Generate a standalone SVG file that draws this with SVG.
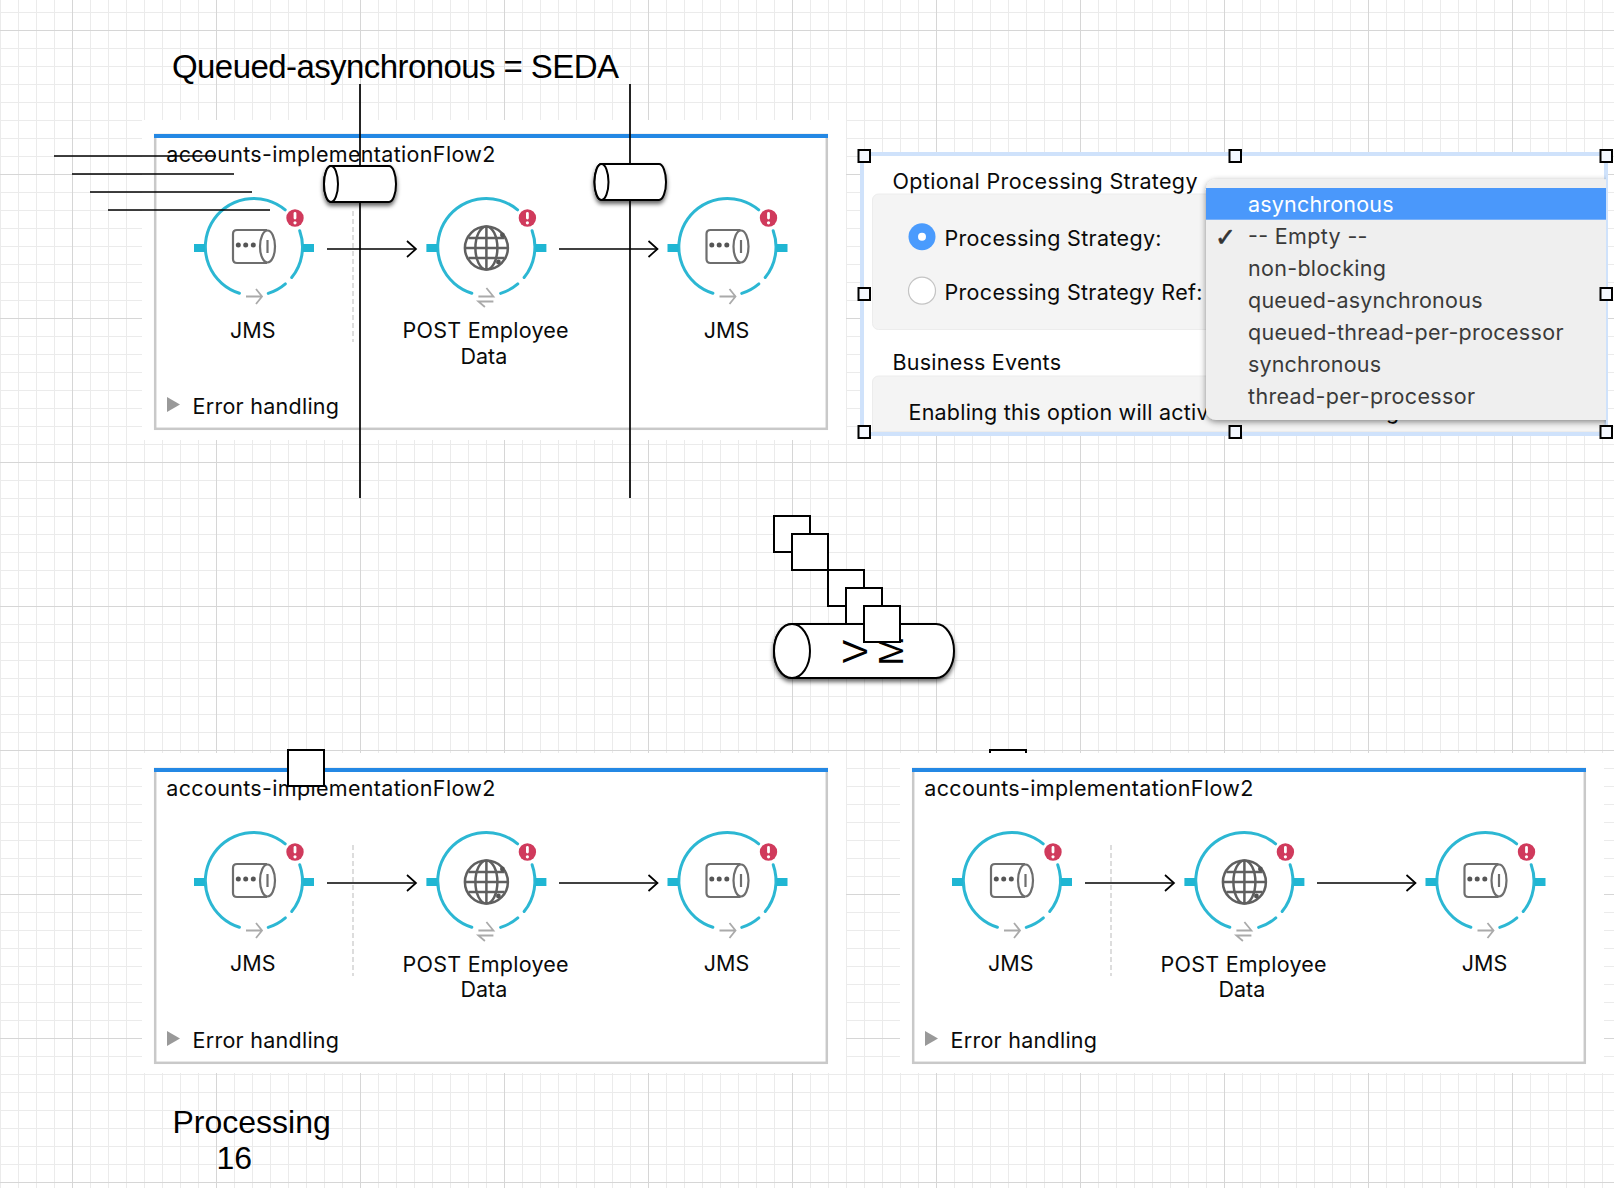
<svg xmlns="http://www.w3.org/2000/svg" xmlns:xlink="http://www.w3.org/1999/xlink" width="1614" height="1188" viewBox="0 0 1614 1188">
<style>
text{font-family:Inter,"Liberation Sans",sans-serif;font-size:21.5px;fill:#0a0a0a}
.big{font-family:"Liberation Sans",Arial,sans-serif;font-size:32px;fill:#000}
.pn{fill:#fff;stroke:#c9c9c9;stroke-width:2.5}
.bar{fill:#2488e4}
.ring{fill:none;stroke:#2cb7d3;stroke-width:3;stroke-linecap:round}
.port{fill:#1fb6d3}
.bdg{fill:#d03a5c}
.ex{stroke:#fff;stroke-width:2.8;stroke-linecap:round;fill:none}
.ic{fill:none;stroke:#6e6e6e;stroke-width:2.2}
.gl{fill:none;stroke:#5f5f5f;stroke-width:2.5}
.ar{fill:none;stroke:#aaa;stroke-width:1.8}
.dash{stroke:#cfcfcf;stroke-width:1.4;stroke-dasharray:5 3}
.ln{stroke:#000;stroke-width:1.7;fill:none}
.con{stroke:#000;stroke-width:1.7;fill:none;marker-end:url(#chev)}
.sq{fill:#fff;stroke:#000;stroke-width:2}
.cyl{fill:#fff;stroke:#000;stroke-width:2}
.hd{fill:#f4f8ff;stroke:#000;stroke-width:2}
.ctr{text-anchor:middle}
.m{fill:#3a3a3a}
.gb{fill:#f4f4f4;stroke:#ececec}
.vm{font-family:"Liberation Sans",Arial,sans-serif;font-size:35px;fill:#000}
</style>
<defs>
<pattern id="grid" patternUnits="userSpaceOnUse" x="72" y="30" width="144" height="144">
<path d="M18.5 0V144M36.5 0V144M54.5 0V144M72.5 0V144M90.5 0V144M108.5 0V144M126.5 0V144M0 18.5H144M0 36.5H144M0 54.5H144M0 72.5H144M0 90.5H144M0 108.5H144M0 126.5H144" stroke="#ebebeb" stroke-width="1" fill="none"/>
<path d="M.5 0V144M0 .5H144" stroke="#d6d6d6" stroke-width="1" fill="none"/>
</pattern>
<marker id="chev" markerUnits="userSpaceOnUse" markerWidth="12" markerHeight="20" refX="9.5" refY="8" orient="auto" overflow="visible">
<path d="M.5 0L9.5 8L.5 16" fill="none" stroke="#000" stroke-width="1.7"/>
</marker>
<filter id="sh" x="-20%" y="-30%" width="140%" height="170%"><feDropShadow dx="0" dy="3" stdDeviation="2.2" flood-color="#000" flood-opacity=".6"/></filter>
<filter id="msh" x="-5%" y="-5%" width="110%" height="112%"><feDropShadow dx="0" dy="2" stdDeviation="3" flood-color="#000" flood-opacity=".45"/></filter>
<clipPath id="mclip"><rect x="1180" y="150" width="426" height="290"/></clipPath>
<g id="ring">
<path class="ring" d="M-14.6 46.2A48.5 48.5 0 1 1 31.2 -37.1"/>
<path class="ring" d="M45.7 -16.3A48.5 48.5 0 0 1 37.7 30.5"/>
<path class="ring" d="M31.4 36.9A48.5 48.5 0 0 1 14.2 46.4"/>
<rect class="port" x="-60" y="-3" width="11" height="8"/>
<rect class="port" x="49" y="-3" width="11" height="8"/>
<circle class="bdg" cx="41" cy="-29" r="8.7"/>
<path class="ex" d="M41 -33.5V-29"/><circle cx="41" cy="-24.2" r="1.6" fill="#fff"/>
</g>
<g id="jms">
<path class="ic" d="M13 -17H-17Q-21 -17 -21 -13V12Q-21 16 -17 16H13"/>
<ellipse class="ic" cx="13.5" cy="-.5" rx="7.5" ry="16"/>
<path class="ic" d="M13.5 -7V6"/>
<circle cx="-15.7" cy="-2" r="2.5" fill="#555"/><circle cx="-8.3" cy="-2" r="2.5" fill="#555"/><circle cx="-.7" cy="-2" r="2.5" fill="#555"/>
<path class="ar" d="M-8 49.5H7.5M2 42L8 49.5L2 57"/>
</g>
<g id="globe">
<circle class="gl" cx="0" cy="1" r="21.5"/>
<ellipse class="gl" cx="0" cy="1" rx="11" ry="21.5"/>
<path class="gl" d="M0 -20.5V22.5M-21 1H21M-18 -9H18M-18 11H18"/>
<circle cx="16" cy="-12" r="2.4" fill="#555"/><circle cx="12" cy="15" r="2.4" fill="#555"/>
<path class="ar" d="M-8 49.5H7L0 41M7 54.5H-8L-1.5 60"/>
</g>
</defs>

<rect id="canvas" width="1614" height="1188" fill="#fff"/>
<rect id="gridlayer" width="1614" height="1188" fill="url(#grid)"/>

<rect x="990" y="750" width="36" height="36" class="sq"/>

<rect x="142" y="120" width="704" height="320" fill="#fff"/>
<rect x="142" y="753" width="704" height="320" fill="#fff"/>
<rect x="900" y="753" width="704" height="320" fill="#fff"/>

<g id="flow-top">
<rect class="pn" x="155.2" y="135" width="671.6" height="293.8"/>
<rect class="bar" x="154" y="134" width="674" height="4"/>
<text x="166.3" y="161.5" textLength="329" lengthAdjust="spacing">accounts-implementationFlow2</text>
<line class="dash" x1="353" y1="211" x2="353" y2="342"/>
<g id="t-jms1" transform="translate(254,247)"><use href="#ring"/><use href="#jms"/><text class="ctr" x="-1.3" y="90.7">JMS</text></g>
<g id="t-post" transform="translate(486.4,247)"><use href="#ring"/><use href="#globe"/><text class="ctr" x="-.8" y="90.7" textLength="166" lengthAdjust="spacing">POST Employee</text><text class="ctr" x="-2.6" y="116.7">Data</text></g>
<g id="t-jms2" transform="translate(727.5,247)"><use href="#ring"/><use href="#jms"/><text class="ctr" x="-1" y="90.7">JMS</text></g>
<path d="M167 397L180 404.500L167 412Z" fill="#999"/>
<text x="192.5" y="414" textLength="146.500" lengthAdjust="spacing">Error handling</text>
</g>

<g id="flow-left" transform="translate(0,634)">
<rect class="pn" x="155.2" y="135" width="671.6" height="293.8"/>
<rect class="bar" x="154" y="134" width="674" height="4"/>
<text x="166.3" y="161.5" textLength="329" lengthAdjust="spacing">accounts-implementationFlow2</text>
<line class="dash" x1="353" y1="211" x2="353" y2="342"/>
<g id="l-jms1" transform="translate(254,247)"><use href="#ring"/><use href="#jms"/><text class="ctr" x="-1.3" y="90.4">JMS</text></g>
<g id="l-post" transform="translate(486.4,247)"><use href="#ring"/><use href="#globe"/><text class="ctr" x="-.8" y="90.5" textLength="166" lengthAdjust="spacing">POST Employee</text><text class="ctr" x="-2.6" y="116.3">Data</text></g>
<g id="l-jms2" transform="translate(727.5,247)"><use href="#ring"/><use href="#jms"/><text class="ctr" x="-1" y="90.4">JMS</text></g>
<path d="M167 397L180 404.500L167 412Z" fill="#999"/>
<text x="192.5" y="414" textLength="146.500" lengthAdjust="spacing">Error handling</text>
</g>

<g id="flow-right" transform="translate(758,634)">
<rect class="pn" x="155.2" y="135" width="671.6" height="293.8"/>
<rect class="bar" x="154" y="134" width="674" height="4"/>
<text x="166.3" y="161.5" textLength="329" lengthAdjust="spacing">accounts-implementationFlow2</text>
<line class="dash" x1="353" y1="211" x2="353" y2="342"/>
<g id="r-jms1" transform="translate(254,247)"><use href="#ring"/><use href="#jms"/><text class="ctr" x="-1.3" y="90.4">JMS</text></g>
<g id="r-post" transform="translate(486.4,247)"><use href="#ring"/><use href="#globe"/><text class="ctr" x="-.8" y="90.5" textLength="166" lengthAdjust="spacing">POST Employee</text><text class="ctr" x="-2.6" y="116.3">Data</text></g>
<g id="r-jms2" transform="translate(727.5,247)"><use href="#ring"/><use href="#jms"/><text class="ctr" x="-1" y="90.4">JMS</text></g>
<path d="M167 397L180 404.500L167 412Z" fill="#999"/>
<text x="192.5" y="414" textLength="146.500" lengthAdjust="spacing">Error handling</text>
</g>

<g id="connectors">
<path class="con" d="M327 249H416"/>
<path class="con" d="M559 249H657.500"/>
<path class="con" d="M327 883H416"/>
<path class="con" d="M559 883H657.500"/>
<path class="con" d="M1085 883H1174"/>
<path class="con" d="M1317 883H1415.500"/>
<path class="ln" d="M360 84V498M630 84V498"/>
<path class="ln" d="M54 156H216M72 174H234M90 192H252M108 210H270"/>
</g>

<g id="title"><text class="big" style="font-size:33px" x="172" y="78" textLength="447" lengthAdjust="spacing">Queued-asynchronous = SEDA</text></g>

<g id="queue-a" filter="url(#sh)"><path class="cyl" d="M331 166H389A7 18 0 0 1 389 202H331A7 18 0 0 1 331 166Z"/><ellipse class="cyl" cx="331" cy="184" rx="7" ry="18"/></g>
<g id="queue-b" filter="url(#sh)"><path class="cyl" d="M601.500 164H659A7 18 0 0 1 659 200H601.500A7 18 0 0 1 601.500 164Z"/><ellipse class="cyl" cx="601.500" cy="182" rx="7" ry="18"/></g>

<g id="properties">
<rect x="860" y="152" width="748" height="284" fill="#fff"/>
<rect x="862" y="154" width="744" height="280" fill="none" stroke="#cfe2fb" stroke-width="4"/>
<rect class="gb" x="872.5" y="194" width="400" height="135.500" rx="6"/>
<path class="gb" d="M872.500 431.500V382a6 6 0 0 1 6 -6H1604V431.500Z"/>
<text x="892.5" y="189" textLength="305" lengthAdjust="spacing">Optional Processing Strategy</text>
<circle cx="922" cy="236.700" r="13.500" fill="#4a9bfd"/><circle cx="922" cy="236.700" r="4" fill="#fff"/>
<circle cx="922" cy="290.700" r="13.500" fill="#fff" stroke="#c4c4c4" stroke-width="1.200"/>
<text x="944.500" y="245.700" textLength="217" lengthAdjust="spacing">Processing Strategy:</text>
<text x="944.500" y="299.700" textLength="258" lengthAdjust="spacing">Processing Strategy Ref:</text>
<text x="892.5" y="370" textLength="168.500" lengthAdjust="spacing">Business Events</text>
<text x="908.500" y="420" textLength="300" lengthAdjust="spacing">Enabling this option will activ</text>
<text x="1386" y="419">g</text>
<g clip-path="url(#mclip)">
<rect x="1206" y="179.300" width="430" height="240.700" rx="10" fill="#efefef" filter="url(#msh)"/>
<rect x="1206" y="188" width="400" height="31.700" fill="#4a98fb"/>
<text x="1248" y="211.700" style="fill:#fff" textLength="145.500" lengthAdjust="spacing">asynchronous</text>
<text x="1215" y="245.500" style="font-family:'DejaVu Sans',sans-serif;font-size:25px;fill:#333;stroke:#333;stroke-width:.6">✓</text>
<text class="m" x="1248" y="243.500" textLength="119.500" lengthAdjust="spacing">-- Empty --</text>
<text class="m" x="1248" y="275.500" textLength="138" lengthAdjust="spacing">non-blocking</text>
<text class="m" x="1248" y="307.500" textLength="234.500" lengthAdjust="spacing">queued-asynchronous</text>
<text class="m" x="1248" y="339.500" textLength="315.500" lengthAdjust="spacing">queued-thread-per-processor</text>
<text class="m" x="1248" y="371.500" textLength="133" lengthAdjust="spacing">synchronous</text>
<text class="m" x="1248" y="403.500" textLength="227" lengthAdjust="spacing">thread-per-processor</text>
</g>
<rect class="hd" x="858.500" y="150" width="11.500" height="12"/><rect class="hd" x="1229.500" y="150" width="11.500" height="12"/><rect class="hd" x="1600.500" y="150" width="11.500" height="12"/>
<rect class="hd" x="858.500" y="288" width="11.500" height="12"/><rect class="hd" x="1600.500" y="288" width="11.500" height="12"/>
<rect class="hd" x="858.500" y="426" width="11.500" height="12"/><rect class="hd" x="1229.500" y="426" width="11.500" height="12"/><rect class="hd" x="1600.500" y="426" width="11.500" height="12"/>
</g>

<g id="stack">
<rect class="sq" x="774" y="516" width="36" height="36"/>
<rect class="sq" x="792" y="534" width="36" height="36"/>
<rect class="sq" x="828" y="570" width="36" height="36"/>
<rect class="sq" x="846" y="588" width="36" height="36"/>
</g>
<g id="vm">
<g filter="url(#sh)"><path class="cyl" d="M792 624H936A18 27 0 0 1 936 678H792A18 27 0 0 1 792 624Z"/><ellipse class="cyl" cx="792" cy="651" rx="18" ry="27"/></g>
<text class="ctr vm" transform="translate(866.5,651.500) rotate(-90)">V</text>
<text class="ctr vm" transform="translate(903,651) rotate(-90)">M</text>
</g>
<rect id="sq-top" class="sq" x="864" y="606" width="36" height="36"/>
<rect id="sq-flow" class="sq" x="288" y="750" width="36" height="36"/>

<g id="footer">
<text class="big" x="172.500" y="1133">Processing</text>
<text class="big" x="216.500" y="1169">16</text>
</g>
</svg>
